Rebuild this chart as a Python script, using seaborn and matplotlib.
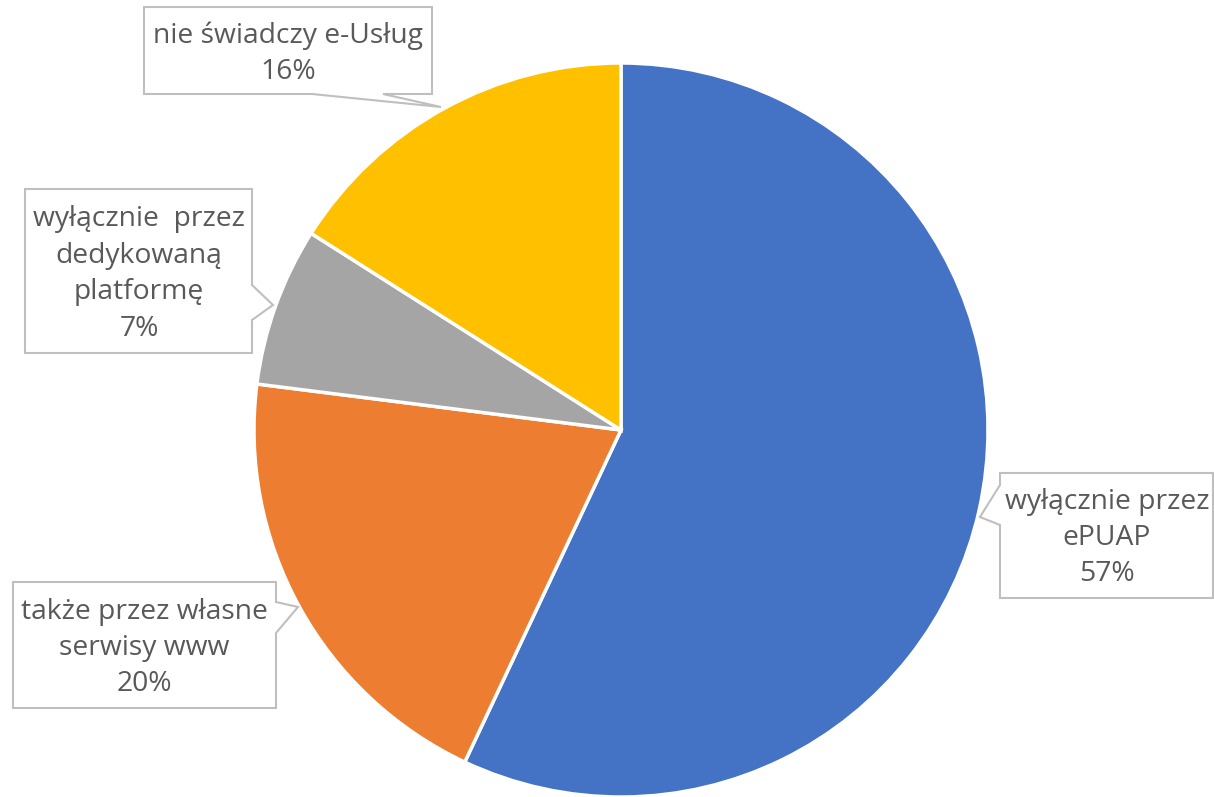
import matplotlib
matplotlib.use("Agg")
import matplotlib.pyplot as plt
import seaborn as sns
from matplotlib.patches import Polygon

sns.set_theme(style="white")
plt.rcParams['font.family'] = ['Open Sans', 'DejaVu Sans']

categories = ["wyłącznie przez\nePUAP", "także przez własne\nserwisy www",
              "wyłącznie  przez\ndedykowaną\nplatformę", "nie świadczy e-Usług"]
values = [57, 20, 7, 16]
colors = ["#4472C4", "#ED7D31", "#A5A5A5", "#FFC000"]

W, H = 1214, 797
fig = plt.figure(figsize=(W / 100, H / 100), dpi=100)
fig.patch.set_facecolor("white")

cx, cy, r = 621, 430, 367
ax = fig.add_axes([(cx - r) / W, 1 - (cy + r) / H, 2 * r / W, 2 * r / H])
ax.pie(values, colors=colors, startangle=90, counterclock=False,
       wedgeprops=dict(edgecolor="white", linewidth=2.5), radius=1)
ax.set_xlim(-1, 1)
ax.set_ylim(-1, 1)
ax.set_aspect("auto")
ax.axis("off")


def px(x, y):
    return (x / W, 1 - y / H)


# callout boxes: (left, top, right, bottom), pointer side, pointer base, tip, text center
callouts = [
    # blue
    dict(box=(1000, 473, 1213, 598), side="left", base=(485, 525), tip=(980, 517),
         center=(1107, 538)),
    # orange
    dict(box=(13, 582, 276, 708), side="right", base=(602, 633), tip=(298, 607),
         center=(144, 648)),
    # gray
    dict(box=(25, 189, 252, 353), side="right", base=(285, 320), tip=(273, 305),
         center=(139, 274)),
    # yellow
    dict(box=(144, 7, 432, 94), side="bottom", base=(312, 383), tip=(441, 107),
         center=(288, 54)),
]

for cat, val, c in zip(categories, values, callouts):
    l, t, rr, b = c["box"]
    b0, b1 = c["base"]
    tx, ty = c["tip"]
    if c["side"] == "left":
        pts = [(l, t), (rr, t), (rr, b), (l, b), (l, b1), (tx, ty), (l, b0)]
    elif c["side"] == "right":
        pts = [(l, t), (rr, t), (rr, b0), (tx, ty), (rr, b1), (rr, b), (l, b)]
    else:
        pts = [(l, t), (rr, t), (rr, b), (b1, b), (tx, ty), (b0, b), (l, b)]
    poly = Polygon([px(*p) for p in pts], closed=True, transform=fig.transFigure,
                   facecolor="white", edgecolor="#BFBFBF", linewidth=1.5, zorder=5)
    fig.patches.append(poly)
    fig.text(*px(*c["center"]), f"{cat}\n{val}%", ha="center", va="center",
             fontsize=20.3, color="#595959", linespacing=1.4, zorder=6)

fig.savefig("out.png", dpi=100, facecolor="white")
